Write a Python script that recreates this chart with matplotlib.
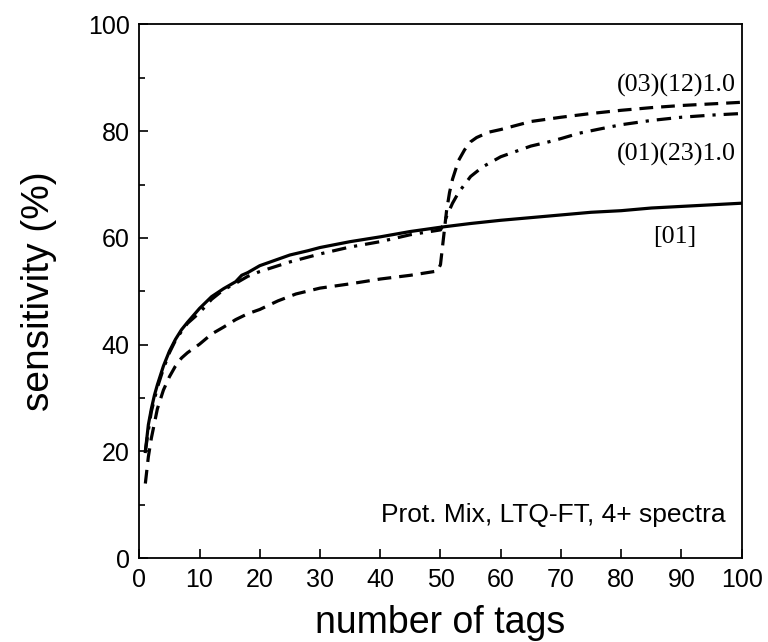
import matplotlib
matplotlib.use("Agg")
import matplotlib.pyplot as plt
from matplotlib.ticker import MultipleLocator

# [01] solid
x_01 = [1, 1.5, 2, 2.5, 3, 4, 5, 6, 7, 8, 10, 12, 14, 16, 17, 18, 20, 22, 25, 28, 30,
        35, 40, 45, 50, 55, 60, 65, 70, 75, 80, 85, 90, 95, 100]
y_01 = [20, 25, 28, 30.5, 32.5, 36, 38.8, 41, 42.8, 44.2, 46.8, 49, 50.5, 51.8, 53, 53.5,
        54.8, 55.6, 56.8, 57.6, 58.2, 59.3, 60.2, 61.2, 62, 62.7, 63.3, 63.8, 64.3, 64.8,
        65.1, 65.6, 65.9, 66.2, 66.5]

# (01)(23)1.0 dash-dot
x_0123 = [1, 1.5, 2, 3, 4, 5, 6, 7, 8, 10, 12, 14, 16, 18, 20, 25, 30, 35, 40, 45, 50,
          50.5, 51, 52, 53, 55, 57, 60, 62, 65, 68, 70, 73, 76, 80, 85, 90, 95, 100]
y_0123 = [20, 24, 27.5, 32, 35.5, 38.5, 40.8, 42.5, 44, 46, 48.5, 50.3, 51.5, 52.8, 53.7,
          55.5, 57, 58.3, 59.3, 60.6, 61.5, 62.5, 64, 66.5, 68.5, 71.5, 73.3, 75.2, 76,
          77.2, 78, 78.6, 79.6, 80.3, 81.2, 82, 82.6, 83, 83.3]

# (03)(12)1.0 dashed
x_0312 = [1, 1.5, 2, 3, 4, 5, 6, 7, 8, 10, 12, 14, 16, 18, 20, 23, 26, 30, 35, 40, 45,
          49.5, 50, 50.5, 51, 51.5, 52, 53, 54, 55, 56, 58, 60, 65, 70, 75, 80, 85, 90,
          95, 100]
y_0312 = [14, 19, 22.5, 28, 31.5, 34, 36, 37.5, 38.5, 40.1, 42, 43.3, 44.7, 45.8, 46.6,
          48.2, 49.5, 50.6, 51.4, 52.3, 53, 53.8, 55, 60, 65, 68.5, 71, 74.5, 76.5, 78,
          78.8, 79.8, 80.3, 81.8, 82.6, 83.3, 83.9, 84.4, 84.8, 85.1, 85.4]

x_ticks = [0, 10, 20, 30, 40, 50, 60, 70, 80, 90, 100]
y_ticks = [0, 20, 40, 60, 80, 100]

plt.rcParams['font.family'] = ['Liberation Sans', 'DejaVu Sans']

fig = plt.figure(figsize=(7.68, 6.42), dpi=100)
ax = fig.add_axes([0.1814, 0.1304, 0.7843, 0.8317])

lw = 2.3
ax.plot(x_01, y_01, color='black', lw=lw, linestyle='-')
ax.plot(x_0123, y_0123, color='black', lw=lw, linestyle=(0, (4.5, 2.5, 1, 2.5)))
ax.plot(x_0312, y_0312, color='black', lw=lw, linestyle=(0, (4.3, 2.5)))

ax.set_xlim(0, 100)
ax.set_ylim(0, 100)
ax.set_xticks(x_ticks)
ax.set_yticks(y_ticks)
ax.yaxis.set_minor_locator(MultipleLocator(10))
ax.tick_params(axis='both', which='major', direction='in', length=6.5, width=1.2,
               labelsize=18, pad=7, top=False, right=False)
ax.tick_params(axis='y', which='minor', direction='in', length=4, width=1.2, right=False)
for s in ax.spines.values():
    s.set_linewidth(1.3)

ax.set_xlabel('number of tags', fontsize=27, labelpad=9)
ax.set_ylabel('sensitivity (%)', fontsize=28, labelpad=22)

serif = ['Liberation Serif', 'DejaVu Serif']
ax.text(99, 88.5, '(03)(12)1.0', ha='right', va='center', fontsize=18.7, family=serif)
ax.text(99, 75.6, '(01)(23)1.0', ha='right', va='center', fontsize=18.7, family=serif)
ax.text(92.5, 60.2, '[01]', ha='right', va='center', fontsize=18.7, family=serif)
ax.text(97.4, 8.6, 'Prot. Mix, LTQ-FT, 4+ spectra', ha='right', va='center_baseline',
        fontsize=19)

fig.savefig('out.png', dpi=100)
